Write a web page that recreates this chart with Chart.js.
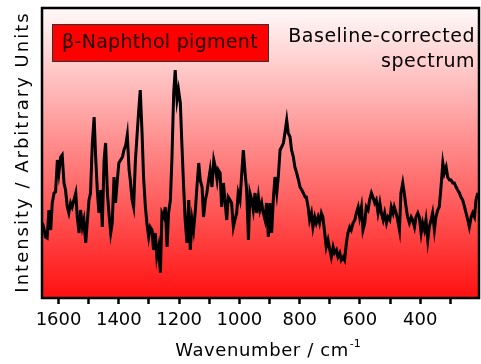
<!DOCTYPE html>
<html><head><meta charset="utf-8">
<script src="https://cdn.jsdelivr.net/npm/chart.js@4/dist/chart.umd.min.js"></script>
<style>html,body{margin:0;padding:0;background:#fff;}#wrap{width:481px;height:364px;position:relative;}</style>
</head><body><div id="wrap"><canvas id="c" width="481" height="364"></canvas></div>
<script>
const wavenumbers = [
1654,1649,1643,1638,1632,1626,1621,1615,1610,1604,1599,1593,1588,1582,1577,1571,1566,1560,1555,1549,1543,1538,1532,1527,1521,1516,1510,1505,1499,1494,1488,1482,1477,1471,1466,1460,1455,1449,1444,1438,1433,1427,1422,1416,1411,1405,1400,1394,1388,1383,1377,1372,1366,
1362,1356,1351,1345,1340,1334,1329,1323,1318,1312,1307,1301,1296,1290,1285,1279,1274,1268,1262,1257,1251,1246,1240,1235,1229,1224,1218,1213,1207,1202,1196,1191,1185,1180,1174,1168,1163,1157,1152,1146,1141,1135,1130,1124,1119,1113,1108,1102,1097,1091,1085,1080,1074,
1070,1064,1059,1053,1048,1042,1037,1031,1026,1020,1015,1009,1004,998,993,987,981,976,970,965,959,954,948,943,937,932,926,921,915,910,904,899,893,887,882,876,871,865,860,854,849,843,838,832,827,821,816,810,804,799,793,788,782,
778,772,767,761,756,750,745,739,734,728,723,717,712,706,700,695,689,684,678,673,667,662,656,651,645,640,634,629,623,617,612,606,601,595,590,584,579,573,568,562,557,551,546,540,534,529,523,518,512,507,501,496,490,
486,480,475,469,464,458,453,447,442,436,430,425,419,414,408,403,397,392,386,381,375,370,364,359,353,348,342,337,331,325,320,314,309,303,298,292,287,281,276,270,265,259,253,248,242,237,231,226,220,215,209
];
const intensity = [
75,70,61,60,88,68,95,105,106,138,125,141,143,115,108,91,85,95,91,98,105,81,65,88,71,78,55,75,98,105,155,181,141,105,85,108,71,138,155,105,85,65,75,121,95,118,135,138,141,148,153,163,128,
118,98,91,138,161,188,208,165,121,91,75,61,71,68,48,65,41,51,25,85,81,91,51,85,98,138,205,228,198,208,195,155,111,78,55,98,48,78,68,88,111,135,118,111,81,98,105,118,128,111,138,131,118,
128,125,91,115,98,78,101,98,95,71,78,85,105,98,121,148,125,108,58,105,98,88,105,85,101,88,95,85,78,95,61,95,65,101,121,105,121,148,151,155,165,178,165,161,148,141,131,125,118,111,108,105,101,
101,91,78,85,71,81,75,81,75,85,81,65,51,58,48,41,51,45,48,41,45,38,41,38,55,65,71,68,75,78,85,91,81,91,68,75,91,88,98,105,101,95,98,85,95,85,78,85,75,81,78,91,85,
91,85,78,68,105,115,105,91,81,75,81,78,71,81,85,81,65,75,68,78,58,71,78,85,68,81,88,91,111,135,125,131,121,118,118,115,115,111,108,105,101,98,91,85,78,71,81,85,81,98,105
];
const tickValues = [1600,1500,1400,1300,1200,1100,1000,900,800,700,600,500,400,300];
const labeledTicks = [1600,1400,1200,1000,800,600,400];
const seriesLabel = 'β-Naphthol pigment';
const noteLines = ['Baseline-corrected', 'spectrum'];
const xTitleMain = 'Wavenumber / cm';
const xTitleSup = '-1';
const yTitle = 'Intensity / Arbitrary Units';

const FONT = 'DejaVu Sans';
const points = wavenumbers.map((w, i) => ({x: w, y: intensity[i]}));

const bgPlugin = {
  id: 'bg',
  beforeDatasetsDraw(chart) {
    const {ctx, chartArea: a} = chart;
    const g = ctx.createLinearGradient(0, a.top, 0, a.bottom);
    g.addColorStop(0, 'rgb(255,250,250)');
    g.addColorStop(1, 'rgb(255,16,16)');
    ctx.save();
    ctx.fillStyle = g;
    ctx.fillRect(a.left, a.top, a.right - a.left, a.bottom - a.top);
    ctx.restore();
  },
  afterDraw(chart) {
    const {ctx, chartArea: a} = chart;
    ctx.save();
    ctx.lineWidth = 2.5;
    ctx.strokeStyle = '#000';
    ctx.strokeRect(a.left, a.top, a.right - a.left, a.bottom - a.top);
    // label box
    ctx.fillStyle = '#ff0000';
    ctx.fillRect(52, 24, 216, 37);
    ctx.lineWidth = 1;
    ctx.strokeStyle = '#333';
    ctx.strokeRect(52.5, 24.5, 216, 37);
    ctx.fillStyle = '#1a0000';
    ctx.font = '19px "' + FONT + '"';
    ctx.textAlign = 'center';
    ctx.textBaseline = 'middle';
    ctx.letterSpacing = '0.3px';
    ctx.fillText(seriesLabel, 160, 43);
    ctx.fillStyle = '#000';
    ctx.textAlign = 'right';
    ctx.letterSpacing = '0.5px';
    ctx.fillText(noteLines[0], 475, 37);
    ctx.fillText(noteLines[1], 475, 62);
    // x title with superscript
    ctx.textAlign = 'left';
    ctx.textBaseline = 'alphabetic';
    ctx.font = '18px "' + FONT + '"';
    ctx.letterSpacing = '0.6px';
    const wMain = ctx.measureText(xTitleMain).width;
    ctx.font = '11px "' + FONT + '"';
    ctx.letterSpacing = '0px';
    const wSup = ctx.measureText(xTitleSup).width;
    const x0 = 268 - (wMain + wSup + 1) / 2;
    ctx.font = '18px "' + FONT + '"';
    ctx.letterSpacing = '0.6px';
    ctx.fillText(xTitleMain, x0, 356);
    ctx.font = '11px "' + FONT + '"';
    ctx.letterSpacing = '0px';
    ctx.fillText(xTitleSup, x0 + wMain + 1, 347);
    // y title
    ctx.font = '18px "' + FONT + '"';
    ctx.letterSpacing = '2px';
    ctx.textAlign = 'center';
    ctx.translate(28, 152);
    ctx.rotate(-Math.PI / 2);
    ctx.fillText(yTitle, 0, 0);
    ctx.restore();
  }
};

new Chart(document.getElementById('c'), {
  type: 'line',
  data: { datasets: [{ data: points, borderColor: '#000', borderWidth: 3, pointRadius: 0, tension: 0, fill: false }] },
  options: {
    responsive: false, animation: false, devicePixelRatio: 1,
    layout: { padding: { top: 8, right: 2, left: 0, bottom: 0 } },
    plugins: { legend: { display: false }, tooltip: { enabled: false } },
    scales: {
      x: {
        type: 'linear', reverse: true, min: 205, max: 1655,
        afterBuildTicks: s => { s.ticks = tickValues.map(v => ({value: v})); },
        afterFit: s => { s.height = 66; },
        ticks: { autoSkip: false, maxRotation: 0, color: '#000', font: {family: FONT, size: 18}, padding: 6,
          callback: v => labeledTicks.includes(v) ? String(v) : '' },
        grid: { drawOnChartArea: false, drawTicks: true, tickLength: 6, tickWidth: 2.5, tickColor: '#000' },
        border: { display: false },
        title: { display: false }
      },
      y: {
        min: 0, max: 290,
        afterFit: s => { s.width = 42; },
        ticks: { display: false },
        grid: { display: false },
        border: { display: false },
        title: { display: false }
      }
    }
  },
  plugins: [bgPlugin]
});
</script>
</body></html>
